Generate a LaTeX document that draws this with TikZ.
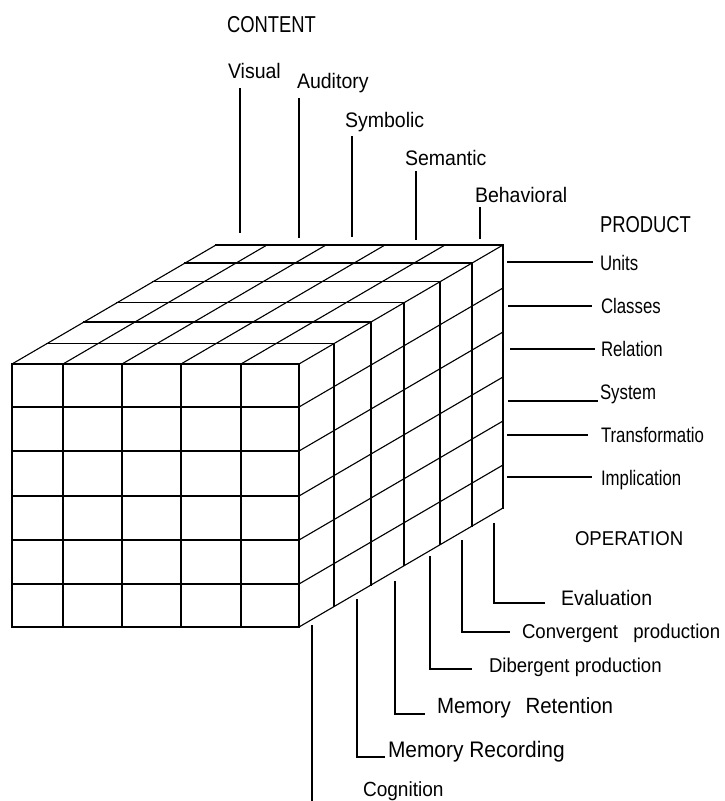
\documentclass[tikz,border=0pt]{standalone}
\usepackage{fontspec}
\setmainfont{Liberation Sans}
\newfontfamily\fa{Liberation Sans}[FakeStretch=0.8]
\newfontfamily\fb{Liberation Sans}[FakeStretch=0.93]
\begin{document}
\begin{tikzpicture}[x=1pt,y=-1pt,
  grid/.style={line width=1.3pt, line cap=rect},
  slant/.style={line width=1.1pt, line cap=rect},
  lead/.style={line width=1.2pt},
  lbl/.style={anchor=base west, inner sep=0pt, outer sep=0pt},
  ttl/.style={lbl, font=\fa\fontsize{23}{23}\selectfont},
  cnt/.style={lbl, font=\fb\fontsize{21}{21}\selectfont},
  prd/.style={lbl, font=\fa\fontsize{21}{21}\selectfont},
  opr/.style={lbl, font=\fb\fontsize{21}{21}\selectfont},
]
\useasboundingbox (0,0) rectangle (725,801);
% front face
\foreach \x in {12,63,122,181,241,299} \draw[grid] (\x,364) -- (\x,627);
\foreach \y in {364,407,451,496,540,584,627} \draw[grid] (12,\y) -- (299,\y);
% top face
\foreach \x in {12,63,122,181,241,299} \draw[slant] (\x,364) -- ++(204,-119);
\foreach \d in {35,72,105,141,173,204} \draw[grid] ({12+\d},{364-0.5833*\d}) -- ++(287,0);
% right face
\foreach \d in {35,72,105,141,173,204} \draw[grid] ({299+\d},{364-0.5833*\d}) -- ++(0,263);
\foreach \y in {407,451,496,540,584,627} \draw[slant] (299,\y) -- ++(204,-119);

% titles
\node[ttl] (content) at (227,32) {CONTENT};
\node[ttl] (product) at (600,232) {PRODUCT};
\node[ttl, font=\fb\fontsize{20}{20}\selectfont] (operation) at (575,545) {OPERATION};

% content labels
\node[cnt] (visual) at (228,78) {Visual};
\node[cnt] (auditory) at (297,88) {Auditory};
\node[cnt] (symbolic) at (345,127) {Symbolic};
\node[cnt] (semantic) at (405,165) {Semantic};
\node[cnt] (behavioral) at (475,202) {Behavioral};
\coordinate (v1) at (240,88);  \coordinate (v2) at (240,233);
\coordinate (a1) at (299,98);  \coordinate (a2) at (299,238);
\coordinate (s1) at (352,136); \coordinate (s2) at (352,237);
\coordinate (m1) at (416,171); \coordinate (m2) at (416,240);
\coordinate (b1) at (480,207); \coordinate (b2) at (480,239);
\draw[lead] (v1) -- (v2);
\draw[lead] (a1) -- (a2);
\draw[lead] (s1) -- (s2);
\draw[lead] (m1) -- (m2);
\draw[lead] (b1) -- (b2);

% product labels
\node[prd] (units) at (600,270) {Units};
\node[prd] (classes) at (601,313) {Classes};
\node[prd] (relation) at (601,356) {Relation};
\node[prd] (system) at (600,399) {System};
\node[prd] (transf) at (601,442) {Transformatio};
\node[prd] (impl) at (601,485) {Implication};
\coordinate (u0) at (507,262); \coordinate (u1) at (593,262);
\coordinate (c0) at (508,306); \coordinate (c1) at (592,306);
\coordinate (r0) at (510,349); \coordinate (r1) at (595,349);
\coordinate (y0) at (508,401); \coordinate (y1) at (598,401);
\coordinate (t0) at (507,435); \coordinate (t1) at (588,435);
\coordinate (i0) at (507,477); \coordinate (i1) at (592,477);
\draw[lead] (u0) -- (u1);
\draw[lead] (c0) -- (c1);
\draw[lead] (r0) -- (r1);
\draw[lead] (y0) -- (y1);
\draw[lead] (t0) -- (t1);
\draw[lead] (i0) -- (i1);

% operation labels
\node[opr] (eval) at (561,605) {Evaluation};
\node[opr, font=\fb\fontsize{20}{20}\selectfont] (conv) at (522,638) {Convergent\hspace{10pt} production};
\node[opr, font=\fb\fontsize{20}{20}\selectfont] (dib) at (489,672) {Dibergent production};
\node[opr, font=\fb\fontsize{22}{22}\selectfont] (mret) at (437,713) {Memory\hspace{9pt} Retention};
\node[opr, font=\fb\fontsize{22.5}{22.5}\selectfont] (mrec) at (388,757) {Memory Recording};
\node[opr, font=\fb\fontsize{20.5}{20.5}\selectfont] (cog) at (363,796) {Cognition};
\coordinate (e0) at (494,523); \coordinate (e1) at (494,603); \coordinate (e2) at (545,603);
\coordinate (g0) at (462,540); \coordinate (g1) at (462,632); \coordinate (g2) at (510,632);
\coordinate (d0) at (430,556); \coordinate (d1) at (430,669); \coordinate (d2) at (472,669);
\coordinate (n0) at (395,581); \coordinate (n1) at (395,714); \coordinate (n2) at (425,714);
\coordinate (k0) at (357,599); \coordinate (k1) at (357,757); \coordinate (k2) at (385,757);
\coordinate (q0) at (312,625); \coordinate (q1) at (312,801);
\draw[lead] (e0) -- (e1) -- (e2);
\draw[lead] (g0) -- (g1) -- (g2);
\draw[lead] (d0) -- (d1) -- (d2);
\draw[lead] (n0) -- (n1) -- (n2);
\draw[lead] (k0) -- (k1) -- (k2);
\draw[lead] (q0) -- (q1);
\end{tikzpicture}
\end{document}
